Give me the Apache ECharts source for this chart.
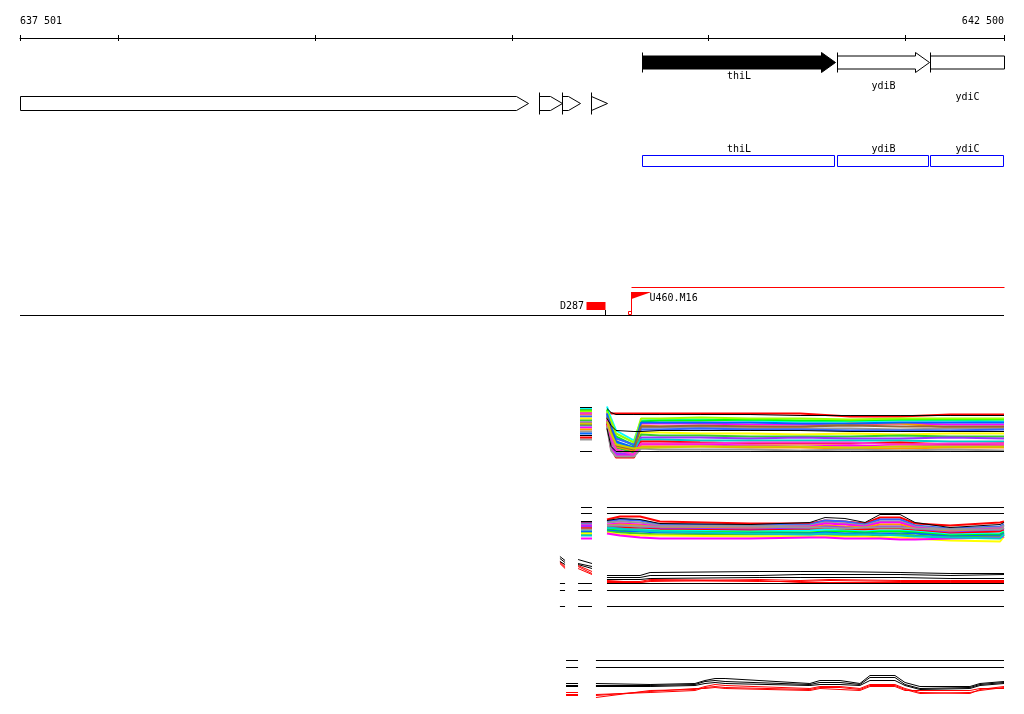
<!DOCTYPE html>
<html><head><meta charset="utf-8">
<script src="https://cdn.jsdelivr.net/npm/echarts@6/dist/echarts.min.js"></script>
<style>html,body{margin:0;padding:0;background:#fff}#c{width:1024px;height:714px}</style>
</head><body><div id="c"></div>
<script>
// ---------- DATA ----------
const X_MIN = 637501, X_MAX = 642500;
const tickValues = [637501, 638000, 639000, 640000, 641000, 642000, 642500];

const geneNames = ['', '', '', '', 'thiL', 'ydiB', 'ydiC'];
const geneStart = [637501, 640138, 640255, 640402, 640661, 641651, 642124];
const geneEnd   = [640082, 640255, 640346, 640483, 641641, 642119, 642900];
const geneKind  = ['region', 'region', 'region', 'region', 'gene', 'gene', 'gene'];
const selectedGene = 'thiL';

const probeNames = ['D287', 'U460.M16'];
const probeStart = [640377, 640605];
const probeEnd   = [640473, 642500];
const probeKind  = ['block', 'flag'];

// track A (profiles)
const xsA = [640483, 640504, 640529, 640620, 640656, 640752, 640956, 641210, 641464, 641718, 641972, 642226, 642500];
const stubA = [640346, 640407];
const stubValsA = [53, 51, 52, 50, 48, 46, 21, 44, 25, 42, 40, 38, 35, 23, 33, 31, 29, 9, 49, 27, 36, 47, 37];
const valsA = [
  [52, 48, 46, 46, 46, 46, 46, 46, 45, 45, 45, 45, 45],
  [50, 47, 47, 47, 47, 47, 47, 47, 47, 44, 44, 46, 46],
  [54, 42, 30, 20, 40, 41, 41, 40, 39, 39, 40, 40, 39],
  [51, 38, 24, 15, 39, 40, 40, 41, 40, 40, 41, 41, 41],
  [48, 20, 6, 5, 37, 37, 37, 36, 36, 36, 37, 36, 36],
  [46, 36, 20, 8, 35, 34, 34, 34, 33, 37, 37, 33, 33],
  [45, 20, 8, 6, 33, 33, 33, 32, 32, 32, 31, 32, 32],
  [44, 34, 22, 16, 31, 31, 32, 31, 31, 30, 30, 30, 31],
  [42, 35, 30, 29, 29, 30, 30, 30, 30, 29, 29, 29, 29],
  [41, 28, 16, 10, 28, 28, 27, 27, 26, 27, 26, 27, 27],
  [40, 26, 13, 8, 26, 25, 25, 24, 24, 24, 25, 24, 24],
  [39, 14, 7, 6, 23, 23, 23, 22, 23, 22, 22, 23, 22],
  [38, 30, 18, 12, 21, 21, 20, 20, 20, 20, 20, 19, 19],
  [37, 12, 3, 3, 19, 19, 18, 17, 17, 17, 18, 16, 17],
  [36, 12, 5, 5, 16, 16, 16, 15, 14, 15, 14, 15, 15],
  [35, 26, 14, 10, 14, 14, 14, 13, 13, 12, 12, 13, 13],
  [34, 10, 4, 4, 12, 11, 11, 11, 10, 11, 10, 11, 10],
  [32, 14, 9, 9, 9, 9, 9, 9, 9, 9, 9, 9, 9],
  [49, 40, 27, 18, 42, 42, 43, 42, 42, 41, 42, 42, 42],
  [47, 33, 19, 13, 38, 38, 38, 38, 37, 37, 38, 38, 38],
  [43, 29, 15, 11, 34, 34, 35, 34, 34, 35, 34, 34, 34],
  [41, 23, 11, 6, 17, 17, 17, 18, 18, 18, 16, 17, 17],
  [39, 27, 16, 12, 13, 13, 14, 14, 14, 13, 14, 14, 14]
];

// track B
const xsB = [640483, 640549, 640651, 640752, 641210, 641514, 641591, 641692, 641794, 641870, 641972, 642048, 642226, 642480, 642500];
const stubB = [640351, 640407];
const stubValsB = [28, 29, 27, 26, 25, 23, 24, 22, 20, 18, 19, 16, 17, 12, 15, 21];
const valsB = [
  [31, 34, 34, 29, 27, 27, 30, 29, 27, 33, 33, 27, 25, 28, 29],
  [30, 32, 31, 27, 26, 28, 33, 32, 28, 36, 36, 28, 23, 26, 28],
  [29, 31, 30, 26, 25, 26, 30, 29, 26, 31, 31, 25, 22, 24, 26],
  [28, 29, 28, 25, 24, 25, 28, 27, 25, 29, 29, 24, 21, 23, 25],
  [26, 27, 26, 24, 23, 24, 27, 26, 24, 28, 28, 23, 20, 22, 23],
  [25, 26, 25, 23, 22, 23, 25, 24, 23, 26, 26, 22, 19, 21, 22],
  [24, 24, 23, 22, 21, 22, 24, 23, 22, 24, 24, 21, 18, 20, 21],
  [23, 23, 22, 21, 20, 21, 22, 21, 21, 22, 22, 20, 17, 19, 20],
  [22, 21, 21, 20, 19, 20, 21, 20, 19, 20, 20, 19, 16, 17, 19],
  [21, 20, 20, 19, 18, 18, 19, 19, 18, 19, 19, 18, 15, 16, 18],
  [20, 19, 19, 18, 17, 17, 18, 17, 17, 17, 17, 17, 14, 15, 17],
  [19, 18, 17, 16, 16, 16, 16, 15, 16, 15, 16, 15, 13, 14, 16],
  [18, 16, 15, 15, 14, 14, 14, 14, 14, 13, 13, 12, 10, 9, 14],
  [17, 15, 13, 12, 12, 13, 13, 12, 12, 12, 11, 11, 12, 13, 14],
  [23, 22, 20, 19, 17, 16, 17, 16, 16, 16, 15, 14, 13, 12, 16],
  [25, 25, 24, 24, 24, 23, 23, 22, 23, 23, 23, 22, 21, 21, 23]
];
const flatB = [43, 37];

// track C
const xsC = [640483, 640651, 640702, 641260, 641464, 641616, 641972, 642226, 642500];
const stubC1 = [640244, 640270];
const stubC2 = [640336, 640407];
const stubValsC1 = [[54, 50], [52, 48], [49, 46], [48, 43], [47, 42], [49, 44]];
const stubValsC2 = [[51, 47], [47, 44], [46, 42], [44, 37], [42, 36], [45, 39]];
const valsC = [
  [35, 35, 38, 39, 39, 39, 38, 37, 37],
  [33, 33, 35, 35, 36, 36, 36, 35, 36],
  [31, 31, 32, 33, 33, 33, 33, 32, 32],
  [30, 28, 29, 31, 30, 31, 30, 30, 30],
  [28, 28, 30, 29, 29, 30, 29, 29, 29],
  [29, 29, 31, 30, 28, 28, 28, 28, 28]
];
const flatC = [27, 20, 4];

// track D
const xsD = [640427, 640702, 640930, 640981, 641032, 641083, 641514, 641565, 641667, 641768, 641819, 641946, 641997, 642073, 642327, 642378, 642500];
const stubD = [640275, 640336];
const stubValsD = [17, 15, 14, 8, 5, 6];
const valsD = [
  [17, 16, 17, 20, 22, 22, 17, 20, 20, 17, 25, 25, 18, 14, 14, 17, 19],
  [15, 15, 16, 19, 20, 19, 16, 18, 18, 16, 23, 23, 16, 12, 13, 16, 18],
  [14, 14, 15, 17, 18, 17, 15, 16, 16, 15, 20, 20, 15, 11, 12, 15, 17],
  [3, 10, 11, 14, 16, 15, 12, 14, 14, 12, 16, 16, 12, 8, 7, 11, 14],
  [6, 8, 10, 13, 14, 13, 11, 13, 13, 11, 15, 15, 11, 7, 8, 10, 13],
  [5, 9, 12, 12, 13, 12, 10, 12, 11, 10, 14, 14, 10, 10, 10, 12, 12]
];
const flatD = [40, 33];

// ---------- STYLE / LAYOUT ----------
const colorsA = ['#000000', '#ff0000', '#00ffff', '#00ff00', '#ff00ff', '#ff9900', '#999999', '#3366ff', '#000000', '#ffff00', '#33cc33', '#9933ff', '#00cccc', '#ff0000', '#ff00ff', '#ff9900', '#999999', '#000000', '#99ff00', '#0066ff', '#996633', '#ff33cc', '#cccc00'];
const colorsB = ['#ff0000', '#000000', '#3366ff', '#999999', '#ff00ff', '#ff9900', '#9933ff', '#ff0000', '#00ffff', '#00ff00', '#0066ff', '#33cc33', '#ffff00', '#ff00ff', '#00cccc', '#999999'];
const colorsC = ['#000000', '#000000', '#000000', '#ff0000', '#ff0000', '#ff0000'];
const colorsD = ['#000000', '#000000', '#000000', '#ff0000', '#ff0000', '#ff0000'];
const FONT = '10px "DejaVu Sans Mono"';
const L = {
  geneY: 62, geneBody: 6.5, geneHead: 10, geneHeadLen: 14, labelY0: 76, labelStep: 10.5,
  regionY: 103, regionBody: 7, regionBar: 11, regionHeadLen: 12,
  boxTop: 155, boxH: 11, boxLabelY: 149,
  baseY: 315, probeTop: 302, probeH: 8, flagTop: 292, flagW: 20, flagH: 7, flagLineY: 287
};
const tracks = [
  {top: 400.5, height: 60, colorWidth: 2},
  {top: 500.5, height: 50, colorWidth: 2},
  {top: 550.5, height: 60, colorWidth: 1},
  {top: 655.5, height: 45, colorWidth: 1}
];

// ---------- CHART ----------
const chart = echarts.init(document.getElementById('c'), null, {renderer: 'canvas'});
const fmt = v => String(v).replace(/\B(?=(\d{3})+(?!\d))/g, ' ');
const labelFont = {color: '#000', fontFamily: 'DejaVu Sans Mono', fontSize: 10};

const grids = [
  {left: 20, right: 20, top: 38, height: 3},
  {left: 20, right: 20, top: 38, height: 3},
  {left: 20, right: 20, top: 0, height: 714}
].concat(tracks.map(t => ({left: 20, right: 20, top: t.top, height: t.height})));

const xAxes = [
  {type: 'value', gridIndex: 0, position: 'top', min: X_MIN, max: X_MAX,
   axisLine: {show: true, onZero: false, lineStyle: {color: '#000', width: 1}},
   axisTick: {show: true, length: 3, customValues: tickValues, lineStyle: {color: '#000'}},
   axisLabel: Object.assign({show: true, customValues: [X_MIN], formatter: fmt, align: 'left', margin: 12}, labelFont),
   splitLine: {show: false}},
  {type: 'value', gridIndex: 0, position: 'bottom', min: X_MIN, max: X_MAX,
   axisLine: {show: false, onZero: false},
   axisTick: {show: true, inside: true, length: 3, customValues: tickValues, lineStyle: {color: '#000'}},
   axisLabel: {show: false}, splitLine: {show: false}},
  {type: 'value', gridIndex: 1, position: 'top', min: X_MIN, max: X_MAX,
   axisLine: {show: false, onZero: false}, axisTick: {show: false},
   axisLabel: Object.assign({show: true, customValues: [X_MAX], formatter: fmt, align: 'right', margin: 12}, labelFont),
   splitLine: {show: false}},
  {type: 'value', gridIndex: 2, min: X_MIN, max: X_MAX, show: false}
].concat(tracks.map((t, k) => ({type: 'value', gridIndex: k + 3, min: X_MIN, max: X_MAX, show: false})));

const yAxes = [
  {type: 'value', gridIndex: 0, min: 0, max: 1, show: false},
  {type: 'value', gridIndex: 1, min: 0, max: 1, show: false},
  {type: 'value', gridIndex: 2, min: 0, max: 1, show: false}
].concat(tracks.map((t, k) => ({type: 'value', gridIndex: k + 3, min: 0, max: t.height, show: false})));

const series = [];
const ANN = {xAxisIndex: 3, yAxisIndex: 2, type: 'custom', silent: true, animation: false};

// baseline
series.push(Object.assign({}, ANN, {
  data: [[X_MIN, 0]],
  renderItem: (params, api) => {
    const a = api.coord([X_MIN, 0])[0], b = api.coord([X_MAX, 0])[0];
    return {type: 'line', shape: {x1: a, y1: L.baseY + 0.5, x2: b, y2: L.baseY + 0.5}, style: {stroke: '#000', lineWidth: 1}};
  }
}));

// genes
const labelRank = {};
geneNames.filter(n => n).forEach((n, r) => labelRank[n] = r);
series.push(Object.assign({}, ANN, {
  data: geneStart.map((s, i) => [s, 0, i]),
  renderItem: (params, api) => {
    const i = api.value(2);
    const x0 = Math.round(api.coord([Math.max(geneStart[i], X_MIN), 0])[0]) + 0.5;
    const x1 = Math.round(api.coord([Math.min(geneEnd[i], X_MAX), 0])[0]) + 0.5;
    const trunc = geneEnd[i] > X_MAX;
    const children = [];
    if (geneKind[i] === 'gene') {
      const c = L.geneY + 0.5, b = L.geneBody, h = L.geneHead, hl = L.geneHeadLen;
      const filled = geneNames[i] === selectedGene;
      let pts;
      if (trunc) pts = [[x0, c - b], [x1, c - b], [x1, c + b], [x0, c + b]];
      else pts = [[x0, c - b], [x1 - hl, c - b], [x1 - hl, c - h], [x1, c], [x1 - hl, c + h], [x1 - hl, c + b], [x0, c + b]];
      children.push({type: 'polygon', shape: {points: pts}, style: {fill: filled ? '#000' : '#fff', stroke: '#000', lineWidth: 1}});
      children.push({type: 'line', shape: {x1: x0, y1: c - h, x2: x0, y2: c + h}, style: {stroke: '#000', lineWidth: 1}});
      const r = labelRank[geneNames[i]];
      children.push({type: 'text', style: {text: geneNames[i], x: (x0 + x1) / 2, y: L.labelY0 + r * L.labelStep, font: FONT, fill: '#000', align: 'center', verticalAlign: 'middle'}});
      children.push({type: 'rect', shape: {x: x0, y: L.boxTop + 0.5, width: x1 - x0 - 1, height: L.boxH}, style: {fill: 'none', stroke: '#0000ff', lineWidth: 1}});
      children.push({type: 'text', style: {text: geneNames[i], x: (x0 + x1) / 2, y: L.boxLabelY, font: FONT, fill: '#000', align: 'center', verticalAlign: 'middle'}});
    } else {
      const c = L.regionY + 0.5, b = L.regionBody, hl = L.regionHeadLen;
      const len = x1 - x0;
      let pts;
      if (len <= hl + 4) pts = [[x0, c - b], [x1, c], [x0, c + b]];
      else pts = [[x0, c - b], [x1 - hl, c - b], [x1, c], [x1 - hl, c + b], [x0, c + b]];
      children.push({type: 'polygon', shape: {points: pts}, style: {fill: '#fff', stroke: '#000', lineWidth: 1}});
      if (geneStart[i] > X_MIN) children.push({type: 'line', shape: {x1: x0, y1: c - L.regionBar, x2: x0, y2: c + L.regionBar}, style: {stroke: '#000', lineWidth: 1}});
    }
    return {type: 'group', children};
  }
}));

// probes
series.push(Object.assign({}, ANN, {
  data: probeStart.map((s, i) => [s, 0, i]),
  renderItem: (params, api) => {
    const i = api.value(2);
    const x0 = Math.round(api.coord([probeStart[i], 0])[0]) + 0.5;
    const x1 = Math.round(api.coord([probeEnd[i], 0])[0]) + 0.5;
    const ch = [];
    if (probeKind[i] === 'block') {
      ch.push({type: 'rect', shape: {x: x0, y: L.probeTop, width: x1 - x0, height: L.probeH}, style: {fill: '#ff0000'}});
      ch.push({type: 'line', shape: {x1: x1, y1: L.probeTop + L.probeH, x2: x1, y2: L.baseY}, style: {stroke: '#000', lineWidth: 1}});
      ch.push({type: 'text', style: {text: probeNames[i], x: x0 - 2.5, y: L.probeTop + 4, font: FONT, fill: '#000', align: 'right', verticalAlign: 'middle'}});
    } else {
      ch.push({type: 'line', shape: {x1: x0, y1: L.flagLineY + 0.5, x2: x1, y2: L.flagLineY + 0.5}, style: {stroke: '#ff0000', lineWidth: 1}});
      ch.push({type: 'line', shape: {x1: x0, y1: L.flagTop, x2: x0, y2: L.baseY - 3}, style: {stroke: '#ff0000', lineWidth: 1}});
      ch.push({type: 'polygon', shape: {points: [[x0, L.flagTop], [x0 + L.flagW, L.flagTop], [x0, L.flagTop + L.flagH]]}, style: {fill: '#ff0000'}});
      ch.push({type: 'rect', shape: {x: x0 - 3, y: L.baseY - 3.5, width: 3, height: 3}, style: {fill: 'none', stroke: '#ff0000', lineWidth: 1}});
      ch.push({type: 'text', style: {text: probeNames[i], x: x0 + L.flagW - 2, y: L.flagTop + 6, font: FONT, fill: '#000', align: 'left', verticalAlign: 'middle'}});
    }
    return {type: 'group', children: ch};
  }
}));

function lineSeries(k, data, color) {
  const w = color === '#000000' || color === '#000' ? 1 : tracks[k].colorWidth;
  return {type: 'line', xAxisIndex: k + 4, yAxisIndex: k + 3, data, symbol: 'none', showSymbol: false,
    lineStyle: {width: w, color}, itemStyle: {color}, silent: true, animation: false, connectNulls: false};
}
function seg(a, b, va, vb) { return [[a, va], [b, vb], [b, '-']]; }
function mainPts(xs, v) { return xs.map((x, j) => [x, v[j]]); }

valsA.forEach((v, i) => series.push(lineSeries(0, seg(stubA[0], stubA[1], stubValsA[i], stubValsA[i]).concat(mainPts(xsA, v)), colorsA[i % colorsA.length])));
// draw black lines of track A on top
series.sort((a, b) => 0);

flatB.forEach(f => series.push(lineSeries(1, seg(stubB[0], stubB[1], f, f).concat([[xsB[0], f], [X_MAX, f]]), '#000')));
valsB.forEach((v, i) => series.push(lineSeries(1, seg(stubB[0], stubB[1], stubValsB[i], stubValsB[i]).concat(mainPts(xsB, v)), colorsB[i % colorsB.length])));

flatC.forEach(f => series.push(lineSeries(2, seg(stubC1[0], stubC1[1], f, f).concat(seg(stubC2[0], stubC2[1], f, f), [[xsC[0], f], [X_MAX, f]]), '#000')));
valsC.forEach((v, i) => series.push(lineSeries(2, seg(stubC1[0], stubC1[1], stubValsC1[i][0], stubValsC1[i][1]).concat(seg(stubC2[0], stubC2[1], stubValsC2[i][0], stubValsC2[i][1]), mainPts(xsC, v)), colorsC[i])));

flatD.forEach(f => series.push(lineSeries(3, seg(stubD[0], stubD[1], f, f).concat([[xsD[0], f], [X_MAX, f]]), '#000')));
valsD.forEach((v, i) => series.push(lineSeries(3, seg(stubD[0], stubD[1], stubValsD[i], stubValsD[i]).concat(mainPts(xsD, v)), colorsD[i])));

// black profile lines above colored ones
series.forEach(s => { if (s.type === 'line') s.z = (s.lineStyle.color === '#000000' || s.lineStyle.color === '#000') ? 3 : 2; });

chart.setOption({
  backgroundColor: '#fff',
  animation: false,
  grid: grids,
  xAxis: xAxes,
  yAxis: yAxes,
  series
});
</script>
</body></html>
